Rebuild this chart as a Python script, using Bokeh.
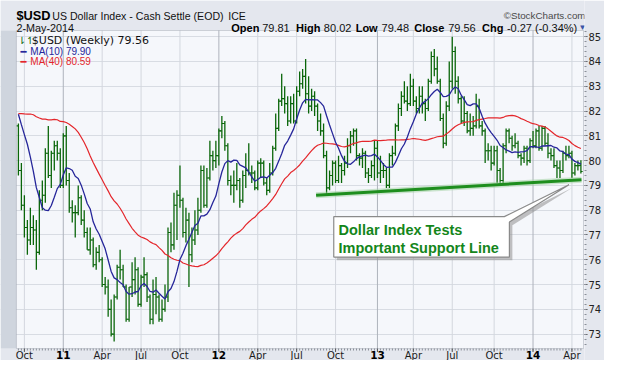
import numpy as np
import pandas as pd
from bokeh.plotting import figure
from bokeh.models import Range1d, FixedTicker, Label, BoxAnnotation
from bokeh.embed import file_html
from bokeh.resources import INLINE

# ---------------- data (weekly $USD bars) ----------------
week_ending = pd.date_range("2010-09-24", "2014-05-02", freq="W-FRI")

opens = [
    81.4, 79.6, 78.2, 77.3, 76.8, 77.3, 77.2, 76.3, 78.4, 78.6,
    80.3, 79.4, 80.3, 80.6, 80.3, 79.0, 81.0, 79.2, 78.1, 77.9,
    77.9, 78.5, 77.6, 77.1, 76.4, 76.8, 75.8, 76.3, 76.0, 75.0,
    74.9, 74.0, 73.0, 74.5, 75.7, 75.6, 74.9, 73.6, 74.9, 75.2,
    75.6, 74.2, 75.3, 75.4, 74.5, 73.6, 74.6, 74.5, 73.6, 74.0,
    74.5, 77.1, 76.6, 78.2, 78.6, 78.4, 77.1, 77.6, 76.2, 76.8,
    77.2, 78.0, 79.6, 78.2, 79.3, 80.2, 80.0, 80.2, 81.2, 81.5,
    80.6, 79.2, 79.0, 79.0, 79.2, 78.4, 79.4, 79.6, 79.5, 79.5,
    78.9, 79.9, 79.9, 79.1, 78.8, 79.5, 80.5, 81.3, 82.4, 82.5,
    82.3, 81.6, 82.3, 81.6, 82.8, 83.1, 83.4, 82.7, 82.2, 82.6,
    82.2, 81.6, 81.2, 80.2, 78.9, 79.4, 79.9, 79.2, 79.8, 79.6,
    79.9, 80.6, 81.0, 81.2, 80.2, 80.1, 80.3, 79.5, 79.4, 79.8,
    80.5, 79.5, 79.6, 79.6, 79.0, 80.2, 80.3, 81.4, 82.1, 82.6,
    82.4, 82.3, 83.0, 82.4, 82.1, 82.6, 82.3, 82.1, 83.2, 84.2,
    83.7, 83.2, 81.7, 80.7, 82.2, 83.2, 84.4, 83.2, 82.5, 81.6,
    81.9, 81.2, 81.3, 81.4, 82.2, 81.4, 81.2, 80.4, 80.4, 79.9,
    80.4, 79.6, 79.2, 80.6, 81.2, 80.9, 80.6, 80.7, 80.2, 80.1,
    80.5, 80.0, 80.8, 80.6, 81.2, 80.5, 81.3, 80.7, 80.3, 80.2,
    79.8, 79.7, 79.6, 80.3, 80.2, 80.3, 79.5, 79.8, 79.81,
]
highs = [
    81.5, 79.9, 78.6, 77.6, 78.1, 77.8, 77.6, 78.8, 79.2, 80.5,
    81.4, 80.4, 80.8, 80.8, 80.5, 81.1, 81.4, 79.5, 78.4, 78.2,
    79.0, 78.6, 78.0, 77.3, 77.3, 76.9, 76.5, 76.6, 76.1, 75.3,
    75.2, 74.4, 74.6, 75.8, 76.4, 75.8, 75.0, 74.9, 75.9, 76.1,
    75.7, 75.4, 76.1, 75.5, 74.6, 75.2, 75.3, 74.6, 74.4, 75.0,
    77.3, 77.5, 78.7, 78.8, 79.8, 78.5, 78.1, 77.9, 77.3, 78.0,
    78.5, 79.8, 79.8, 79.7, 80.8, 80.4, 80.8, 81.3, 81.8, 81.6,
    80.7, 79.4, 79.6, 79.9, 79.3, 79.6, 80.3, 80.7, 79.8, 79.6,
    80.0, 80.1, 80.0, 79.3, 79.9, 80.6, 81.9, 82.5, 83.5, 83.0,
    82.6, 82.6, 82.7, 83.0, 83.6, 83.7, 84.1, 83.4, 82.9, 82.8,
    82.3, 81.9, 81.5, 80.4, 79.6, 80.0, 80.0, 80.2, 79.9, 80.2,
    80.9, 81.2, 81.3, 81.3, 80.3, 80.5, 80.4, 79.7, 80.0, 80.8,
    80.8, 80.2, 79.9, 79.7, 80.3, 80.6, 81.5, 82.3, 82.8, 83.2,
    83.0, 83.5, 83.3, 82.6, 83.0, 83.0, 82.5, 83.3, 84.4, 84.5,
    84.2, 83.3, 81.9, 82.4, 84.0, 85.0, 84.6, 83.4, 82.6, 82.6,
    82.0, 81.9, 81.8, 82.7, 82.5, 81.6, 81.3, 80.7, 80.6, 80.6,
    80.6, 79.7, 80.7, 81.3, 81.3, 81.0, 81.1, 80.8, 80.3, 80.6,
    80.6, 80.9, 81.2, 81.3, 81.4, 81.4, 81.4, 81.1, 80.5, 80.5,
    80.0, 80.0, 80.4, 80.6, 80.6, 80.4, 79.9, 80.0, 80.02,
]
lows = [
    79.4, 78.0, 76.9, 76.2, 76.6, 76.6, 75.6, 76.2, 78.0, 78.3,
    79.3, 78.9, 79.6, 80.0, 78.9, 78.9, 79.0, 77.9, 77.5, 76.9,
    77.8, 77.4, 76.9, 76.4, 76.2, 75.7, 75.6, 75.9, 74.9, 74.6,
    73.7, 72.9, 72.7, 74.4, 75.2, 74.9, 73.5, 73.5, 74.5, 74.6,
    74.1, 74.1, 74.9, 74.3, 73.4, 73.4, 73.8, 73.5, 73.5, 73.9,
    74.3, 76.3, 76.4, 76.8, 78.1, 76.9, 76.7, 74.9, 75.9, 76.6,
    77.0, 77.9, 78.1, 78.1, 79.2, 79.6, 79.7, 79.8, 80.9, 80.4,
    79.0, 78.6, 78.3, 78.8, 78.1, 78.3, 78.9, 79.4, 79.1, 78.8,
    78.8, 79.3, 79.0, 78.6, 78.7, 79.4, 80.4, 81.2, 82.2, 81.9,
    81.4, 81.5, 81.5, 81.5, 82.6, 82.9, 82.3, 81.9, 82.0, 81.8,
    81.2, 81.0, 80.1, 78.6, 78.8, 79.0, 79.1, 79.1, 79.1, 79.4,
    79.7, 80.3, 80.6, 80.0, 79.8, 79.7, 79.3, 79.1, 79.3, 79.2,
    79.3, 79.1, 79.3, 78.9, 78.9, 79.8, 80.2, 81.2, 81.8, 82.3,
    82.0, 82.2, 82.2, 81.9, 81.9, 81.9, 81.6, 82.0, 83.1, 83.4,
    83.1, 81.6, 80.5, 80.6, 82.0, 82.9, 82.7, 82.3, 81.5, 81.4,
    81.1, 81.0, 81.0, 81.3, 81.3, 81.0, 79.9, 80.0, 79.6, 79.8,
    79.1, 79.0, 79.1, 80.3, 80.7, 80.4, 80.5, 80.1, 79.8, 79.9,
    79.8, 79.9, 80.5, 80.5, 80.4, 80.4, 80.6, 80.1, 80.0, 79.7,
    79.3, 79.3, 79.5, 80.0, 80.1, 79.3, 79.4, 79.6, 79.48,
]
closes = [
    79.6, 78.2, 77.3, 76.8, 77.3, 77.2, 76.3, 78.4, 78.6, 80.3,
    79.4, 80.3, 80.6, 80.3, 79.0, 81.0, 79.2, 78.1, 77.9, 77.9,
    78.5, 77.6, 77.1, 76.4, 76.8, 75.8, 76.3, 76.0, 75.0, 74.9,
    74.0, 73.0, 74.5, 75.7, 75.6, 74.9, 73.6, 74.9, 75.2, 75.6,
    74.2, 75.3, 75.4, 74.5, 73.6, 74.6, 74.5, 73.6, 74.0, 74.5,
    77.1, 76.6, 78.2, 78.6, 78.4, 77.1, 77.6, 76.2, 76.8, 77.2,
    78.0, 79.6, 78.2, 79.3, 80.2, 80.0, 80.2, 81.2, 81.5, 80.6,
    79.2, 79.0, 79.0, 79.2, 78.4, 79.4, 79.6, 79.5, 79.5, 78.9,
    79.9, 79.9, 79.1, 78.8, 79.5, 80.5, 81.3, 82.4, 82.5, 82.3,
    81.6, 82.3, 81.6, 82.8, 83.1, 83.4, 82.7, 82.2, 82.6, 82.2,
    81.6, 81.2, 80.2, 78.9, 79.4, 79.9, 79.2, 79.8, 79.6, 79.9,
    80.6, 81.0, 81.2, 80.2, 80.1, 80.3, 79.5, 79.4, 79.8, 80.5,
    79.5, 79.6, 79.6, 79.0, 80.2, 80.3, 81.4, 82.1, 82.6, 82.4,
    82.3, 83.0, 82.4, 82.1, 82.6, 82.3, 82.1, 83.2, 84.2, 83.7,
    83.2, 81.7, 80.7, 82.2, 83.2, 84.4, 83.2, 82.5, 81.6, 81.9,
    81.2, 81.3, 81.4, 82.2, 81.4, 81.2, 80.4, 80.4, 79.9, 80.4,
    79.6, 79.2, 80.6, 81.2, 80.9, 80.6, 80.7, 80.2, 80.1, 80.5,
    80.0, 80.8, 80.6, 81.2, 80.5, 81.3, 80.7, 80.3, 80.2, 79.8,
    79.7, 79.6, 80.3, 80.2, 80.3, 79.5, 79.8, 79.8, 79.56,
]
# weekly closes before the first visible bar (needed for the 40-week average)
prior_closes = [
    77.9, 77.9, 77.0, 77.3, 78.4, 79.5, 80.5, 80.3, 80.4, 80.4,
    80.3, 79.9, 80.9, 81.7, 81.3, 80.7, 80.9, 81.5, 81.8, 84.1,
    85.5, 85.6, 86.6, 88.2, 86.5, 85.7, 85.3, 84.1, 84.1, 82.7,
    82.4, 81.3, 80.7, 82.5, 82.9, 82.9, 82.4, 82.7, 81.3,
]
# support trend line (bar index, value)
support_x = [99.5, 188.2]
support_y = [78.60, 79.23]
y_ticks = list(range(73, 86))

header_symbol = "$USD"
header_name = "US Dollar Index - Cash Settle (EOD)"
header_exch = "ICE"
header_date = "2-May-2014"
quote_parts = [("Open", "79.81"), ("High", "80.02"), ("Low", "79.48"),
               ("Close", "79.56"), ("Chg", "-0.27 (-0.34%)")]
legend_price = "$USD (Weekly) 79.56"
legend_ma10 = "MA(10) 79.90"
legend_ma40 = "MA(40) 80.59"
callout_lines = ["Dollar Index Tests", "Important Support Line"]

# ---------------- derived ----------------
n = len(closes)
idx = np.arange(n)
allc = pd.Series(prior_closes + closes, dtype=float)
ma10 = allc.rolling(10).mean().to_numpy()[len(prior_closes):]
ma40 = allc.rolling(40).mean().to_numpy()[len(prior_closes):]

mondays = week_ending - pd.Timedelta(days=4)
month_ticks, month_txt, year_ticks, year_txt = [], [], [], []
names = {4: "Apr", 7: "Jul", 10: "Oct"}
prev = None
for k, d in enumerate(mondays):
    key = (d.year, d.month)
    if prev is not None and key != prev and d.month in (1, 4, 7, 10):
        if d.month == 1:
            year_ticks.append(k); year_txt.append(f"{d.year % 100:02d}")
        else:
            month_ticks.append(k); month_txt.append(names[d.month])
    prev = key

# ---------------- geometry ----------------
W, H = 604, 360
FRAME_L, FRAME_R = 0, 587            # canvas px of the Bokeh frame
BOX_L, BOX_R, BOX_T, BOX_B = 16, 586, 30, 348   # canvas px of the price panel
X0, X1 = -0.66, 188.87               # data at price-panel edges
Y0, Y1 = 72.42, 85.25
sx = (BOX_R - BOX_L) / (X1 - X0)
sy = (BOX_B - BOX_T) / (Y1 - Y0)
xr = Range1d(X0 - (BOX_L - FRAME_L) / sx, X1 + (FRAME_R - BOX_R) / sx)
yr = Range1d(Y0 - (H - BOX_B) / sy, Y1 + BOX_T / sy)

def dx(cx):
    return X0 + (cx - BOX_L) / sx

def dy(cy):
    return Y1 - (cy - BOX_T) / sy

GREEN = "#0A660A"
NAVY = "#26269A"
RED = "#E4262B"
BORDER = "#E4E7EE"
OUTLINE = "#7D8593"

p = figure(width=W, height=H, x_range=xr, y_range=yr,
           x_axis_location=None, y_axis_location="right",
           output_backend="svg", toolbar_location=None,
           min_border_left=FRAME_L, min_border_right=W - FRAME_R,
           min_border_top=0, min_border_bottom=0,
           background_fill_color="#F5F7FB", border_fill_color=BORDER,
           outline_line_color=None)

yax = p.yaxis[0]
yax.ticker = FixedTicker(ticks=y_ticks,
                         minor_ticks=[round(v, 1) for v in np.arange(72.6, 85.2, 0.2)])
yax.major_label_text_font = "DejaVu Sans"
yax.major_label_text_font_size = "10px"
yax.major_label_text_color = "#222222"
yax.major_label_standoff = 1
yax.major_tick_out = 3
yax.major_tick_in = 0
yax.minor_tick_out = 2
yax.minor_tick_in = 0
yax.axis_line_color = None
yax.major_tick_line_color = "#555555"
yax.minor_tick_line_color = "#8A8F98"

p.ygrid.grid_line_color = "#D8DCE3"
for g in p.xgrid:
    g.visible = False

# areas outside the price panel
for kw in (dict(bottom=Y1), dict(top=Y0), dict(left=X1)):
    p.add_layout(BoxAnnotation(fill_color=BORDER, fill_alpha=1.0, line_alpha=0,
                               level="underlay", **kw))
p.add_layout(BoxAnnotation(right=X0, bottom=Y0, top=Y1, fill_color="#CFD5DE",
                           fill_alpha=1.0, line_alpha=0, level="underlay"))

# vertical grid lines at quarter starts, darker at year starts
p.segment(x0=month_ticks, y0=Y0, x1=month_ticks, y1=Y1, line_color="#D3D7DE", line_width=1)
p.segment(x0=year_ticks, y0=Y0, x1=year_ticks, y1=Y1, line_color="#AEB3BC", line_width=1)

# bottom edge ticks
p.segment(x0=idx, y0=Y0, x1=idx, y1=Y0 - 2 / sy, line_color="#8A8F98", line_width=1)
all_ticks = sorted(month_ticks + year_ticks)
p.segment(x0=all_ticks, y0=Y0, x1=all_ticks, y1=Y0 - 3.5 / sy, line_color="#555555", line_width=1)

# OHLC bars
p.segment(x0=idx, y0=lows, x1=idx, y1=highs, line_color=GREEN, line_width=1.3)
p.segment(x0=idx - 0.6, y0=opens, x1=idx, y1=opens, line_color=GREEN, line_width=1.1)
p.segment(x0=idx, y0=closes, x1=idx + 0.6, y1=closes, line_color=GREEN, line_width=1.1)

# moving averages
p.line(idx, ma40, line_color=RED, line_width=1.2)
p.line(idx, ma10, line_color=NAVY, line_width=1.3)

# support line
p.line(support_x, support_y, line_color="#9ED09E", line_width=6, line_alpha=0.5)
p.line(support_x, support_y, line_color="#1E8E1E", line_width=3)

# callout box with pointer
bx0, bx1 = 105.4, 164.1
by_top, by_bot = 77.74, 76.11
tip_x, tip_y = 184.0, 79.03
cx_poly = [bx0, 162.4, tip_x, bx1, bx1, bx0]
cy_poly = [by_top, by_top, tip_y, 77.52, by_bot, by_bot]
p.patch([v + 1.0 for v in cx_poly], [v - 0.13 for v in cy_poly],
        fill_color="#8F8F8F", fill_alpha=0.55, line_color=None)
p.patch(cx_poly, cy_poly, fill_color="#FFFFFF", line_color="#8A8A8A", line_width=1.2)
for txt, yy in zip(callout_lines, [77.21, 76.49]):
    p.add_layout(Label(x=107.0, y=yy, text=txt, text_font="Liberation Sans",
                       text_font_size="14.5px", text_font_style="bold",
                       text_color="#14861A", text_baseline="middle"))

# price-panel outline
p.add_layout(BoxAnnotation(left=X0, right=X1, bottom=Y0, top=Y1, fill_alpha=0,
                           line_color=OUTLINE, line_width=1))

def lab(cx, cy, text, size, color="#1b1b1b", bold=False, font="Liberation Sans",
        align="left", baseline="alphabetic"):
    p.add_layout(Label(x=dx(cx), y=dy(cy), text=text, text_font=font,
                       text_font_size=f"{size}px",
                       text_font_style="bold" if bold else "normal",
                       text_color=color, text_align=align, text_baseline=baseline))

# header
lab(16, 15, header_symbol, 12.8, "#000000", bold=True)
lab(52, 15, header_name, 10.6, "#111111")
lab(229, 15, header_exch, 10.5, "#111111")
lab(588, 15, "\u00a9StockCharts.com", 9.8, "#4A4A4A", align="right")
lab(16, 27.5, header_date, 10.8, "#111111")
qx = [232, 263, 297, 325, 357, 383, 416, 450, 484, 509]
for k, (kname, kval) in enumerate(quote_parts):
    lab(qx[2 * k], 27.5, kname, 11, "#000000", bold=True)
    lab(qx[2 * k + 1], 27.5, kval, 11, "#111111")
lab(581, 27, "\u25BC", 8, "#3A55A8")

# legend
lab(17, 40, "\u21C2\u21BF", 10, GREEN, font="DejaVu Sans")
lab(31.5, 40, legend_price, 11, "#111111", font="DejaVu Sans")
lab(20, 50.5, "\u2501", 10, NAVY, font="DejaVu Sans")
lab(30, 50.5, legend_ma10, 10, NAVY)
lab(20, 61, "\u2501", 10, RED, font="DejaVu Sans")
lab(30, 61, legend_ma40, 10, RED)

# x tick labels (years bold)
ylab = dy(354.5)
for t, txt in zip(month_ticks, month_txt):
    p.add_layout(Label(x=t, y=ylab, text=txt, text_font="DejaVu Sans",
                       text_font_size="10px", text_color="#1b1b1b",
                       text_align="center", text_baseline="middle"))
for t, txt in zip(year_ticks, year_txt):
    p.add_layout(Label(x=t, y=ylab, text=txt, text_font="DejaVu Sans",
                       text_font_size="10.5px", text_font_style="bold",
                       text_color="#000000", text_align="center", text_baseline="middle"))

open("out.html", "w").write(file_html(p, INLINE))
